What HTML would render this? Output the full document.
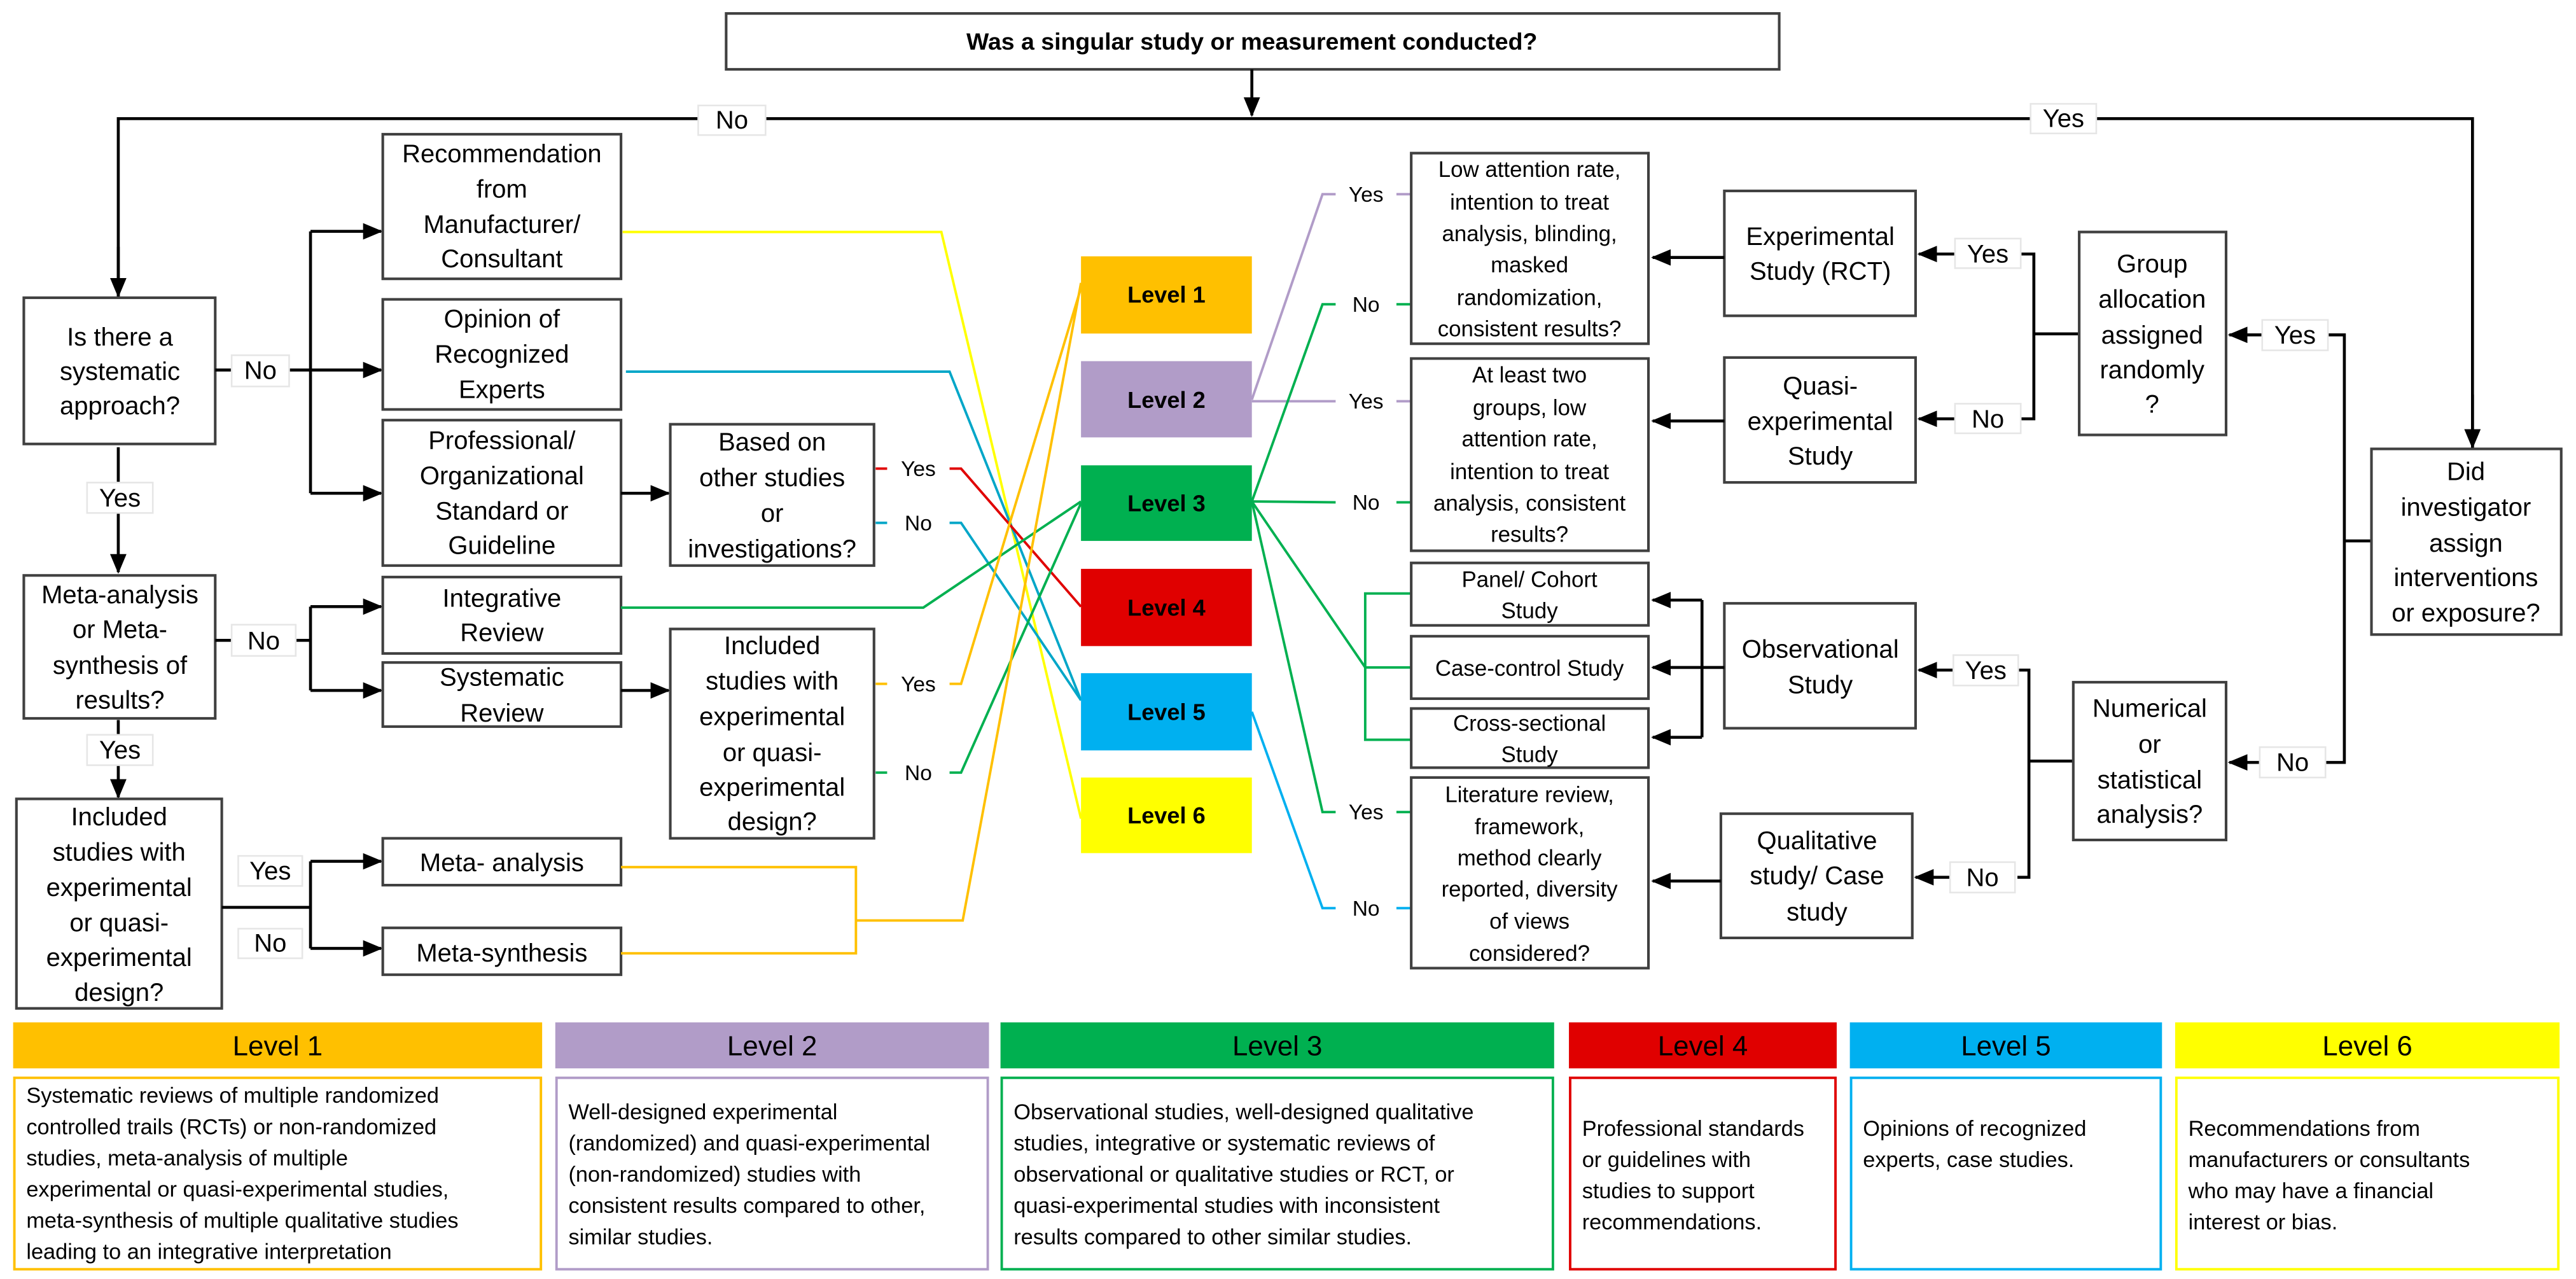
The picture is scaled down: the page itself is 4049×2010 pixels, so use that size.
<!DOCTYPE html>
<html><head><meta charset="utf-8"><style>
html,body{margin:0;padding:0;background:#fff;}
svg{display:block;}
text{font-family:"Liberation Sans",sans-serif;fill:#000;}
.n{font-size:15.5px;text-anchor:middle;}
.s{font-size:13.5px;text-anchor:middle;}
.l{font-size:13px;text-anchor:middle;}
.lv{font-size:14px;font-weight:bold;text-anchor:middle;}
.lg{font-size:13.3px;}
.lh{font-size:17px;text-anchor:middle;}
.b{fill:#fff;stroke:#404040;stroke-width:1.6;}
.k{fill:none;stroke:#000;stroke-width:1.8;}
.c{fill:none;stroke-width:1.5;}
.lb{fill:#fff;stroke:#e6e6e6;stroke-width:1;}
</style></head><body>
<svg width="4049" height="2010" viewBox="0 0 1568 778" xmlns="http://www.w3.org/2000/svg">
<defs>
<marker id="a" markerUnits="userSpaceOnUse" markerWidth="12" markerHeight="10" refX="11" refY="5" orient="auto"><path d="M0,0 L12,5 L0,10 Z" fill="#000"/></marker>
</defs>

<!-- top -->
<rect class="b" x="442" y="8" width="641" height="34"/>
<text x="762" y="30" style="font-size:14.5px;font-weight:bold;text-anchor:middle">Was a singular study or measurement conducted?</text>
<line class="k" x1="762" y1="42" x2="762" y2="70" marker-end="url(#a)"/>
<polyline class="k" points="72,181 72,72 1505,72 1505,273"/>
<line class="k" x1="72" y1="150" x2="72" y2="180" marker-end="url(#a)"/>
<line class="k" x1="1505" y1="240" x2="1505" y2="272" marker-end="url(#a)"/>
<rect class="lb" x="425" y="64" width="41" height="18"/><text class="n" x="445.5" y="78">No</text>
<rect class="lb" x="1236" y="63" width="40" height="18"/><text class="n" x="1256" y="77">Yes</text>

<!-- left boxes -->
<rect class="b" x="14.5" y="181" width="116.5" height="89"/>
<text class="n" x="73" y="210">Is there a</text><text class="n" x="73" y="231">systematic</text><text class="n" x="73" y="252">approach?</text>
<line class="k" x1="131" y1="225" x2="189" y2="225"/>
<rect class="lb" x="141" y="216" width="35" height="19"/><text class="n" x="158.5" y="230.5">No</text>
<line class="k" x1="189" y1="140.6" x2="189" y2="300"/>
<line class="k" x1="189" y1="140.6" x2="232" y2="140.6" marker-end="url(#a)"/>
<line class="k" x1="189" y1="225" x2="232" y2="225" marker-end="url(#a)"/>
<line class="k" x1="189" y1="300" x2="232" y2="300" marker-end="url(#a)"/>

<rect class="b" x="233" y="81.5" width="145" height="88"/>
<text class="n" x="305.5" y="98.5">Recommendation</text><text class="n" x="305.5" y="120">from</text><text class="n" x="305.5" y="141.5">Manufacturer/</text><text class="n" x="305.5" y="162.5">Consultant</text>
<rect class="b" x="233" y="182" width="145" height="67"/>
<text class="n" x="305.5" y="199">Opinion of</text><text class="n" x="305.5" y="220.5">Recognized</text><text class="n" x="305.5" y="242">Experts</text>
<rect class="b" x="233" y="255.5" width="145" height="88.5"/>
<text class="n" x="305.5" y="273">Professional/</text><text class="n" x="305.5" y="294.5">Organizational</text><text class="n" x="305.5" y="316">Standard or</text><text class="n" x="305.5" y="337">Guideline</text>
<line class="k" x1="378" y1="300" x2="407" y2="300" marker-end="url(#a)"/>
<rect class="b" x="408" y="258" width="124" height="86"/>
<text class="n" x="470" y="274">Based on</text><text class="n" x="470" y="295.6">other studies</text><text class="n" x="470" y="317.3">or</text><text class="n" x="470" y="339">investigations?</text>

<line class="k" x1="72" y1="272" x2="72" y2="348" marker-end="url(#a)"/>
<rect class="lb" x="53" y="293.5" width="40" height="18.5"/><text class="n" x="73" y="308">Yes</text>

<rect class="b" x="14.5" y="350" width="116.5" height="87"/>
<text class="n" x="73" y="367">Meta-analysis</text><text class="n" x="73" y="388">or Meta-</text><text class="n" x="73" y="410">synthesis of</text><text class="n" x="73" y="431">results?</text>
<line class="k" x1="131" y1="389.5" x2="189" y2="389.5"/>
<rect class="lb" x="141" y="380" width="39" height="19"/><text class="n" x="160.5" y="395">No</text>
<line class="k" x1="189" y1="369" x2="189" y2="420"/>
<line class="k" x1="189" y1="369" x2="232" y2="369" marker-end="url(#a)"/>
<line class="k" x1="189" y1="420" x2="232" y2="420" marker-end="url(#a)"/>
<rect class="b" x="233" y="351" width="145" height="46.5"/>
<text class="n" x="305.5" y="369">Integrative</text><text class="n" x="305.5" y="390">Review</text>
<rect class="b" x="233" y="403" width="145" height="39"/>
<text class="n" x="305.5" y="417">Systematic</text><text class="n" x="305.5" y="439">Review</text>
<line class="k" x1="378" y1="420" x2="407" y2="420" marker-end="url(#a)"/>
<rect class="b" x="408" y="382.6" width="124" height="127.4"/>
<text class="n" x="470" y="398">Included</text><text class="n" x="470" y="419.5">studies with</text><text class="n" x="470" y="441">experimental</text><text class="n" x="470" y="463">or quasi-</text><text class="n" x="470" y="484">experimental</text><text class="n" x="470" y="505">design?</text>

<line class="k" x1="72" y1="438" x2="72" y2="485" marker-end="url(#a)"/>
<rect class="lb" x="53" y="447" width="40" height="18.5"/><text class="n" x="73" y="461.5">Yes</text>
<rect class="b" x="10" y="486" width="125" height="127.5"/>
<text class="n" x="72.5" y="502">Included</text><text class="n" x="72.5" y="523.5">studies with</text><text class="n" x="72.5" y="545">experimental</text><text class="n" x="72.5" y="566.6">or quasi-</text><text class="n" x="72.5" y="587.6">experimental</text><text class="n" x="72.5" y="609">design?</text>
<line class="k" x1="135" y1="552" x2="189" y2="552"/>
<line class="k" x1="189" y1="524" x2="189" y2="577"/>
<line class="k" x1="189" y1="524" x2="232" y2="524" marker-end="url(#a)"/>
<line class="k" x1="189" y1="577" x2="232" y2="577" marker-end="url(#a)"/>
<rect class="lb" x="145" y="520.7" width="39" height="18.3"/><text class="n" x="164.5" y="535">Yes</text>
<rect class="lb" x="145" y="565" width="39" height="18"/><text class="n" x="164.5" y="579">No</text>
<rect class="b" x="233" y="510" width="145" height="28.5"/>
<text class="n" x="305.5" y="530">Meta- analysis</text>
<rect class="b" x="233" y="564.5" width="145" height="28.5"/>
<text class="n" x="305.5" y="585">Meta-synthesis</text>

<!-- left colored connectors -->
<polyline class="c" stroke="#FFFF00" points="379,141 573,141 658,498"/>
<polyline class="c" stroke="#00A6C8" points="381,226 578,226 658,426"/>
<line class="c" stroke="#E00000" x1="533" y1="285" x2="540" y2="285"/>
<text class="l" x="559" y="289.5">Yes</text>
<polyline class="c" stroke="#E00000" points="578,285 585,285 658,369"/>
<line class="c" stroke="#00A6C8" x1="533" y1="318" x2="540" y2="318"/>
<text class="l" x="559" y="322.5">No</text>
<polyline class="c" stroke="#00A6C8" points="578,318 585,318 658,426"/>
<polyline class="c" stroke="#00B050" points="378,369.6 562,369.6 658,305"/>
<line class="c" stroke="#FFC000" x1="533" y1="416" x2="540" y2="416"/>
<text class="l" x="559" y="420.5">Yes</text>
<polyline class="c" stroke="#FFC000" points="578,416 585,416 658,175"/>
<line class="c" stroke="#00B050" x1="533" y1="470" x2="540" y2="470"/>
<text class="l" x="559" y="474.5">No</text>
<polyline class="c" stroke="#00B050" points="578,470 585,470 658,306"/>
<polyline class="c" stroke="#FFC000" points="378,527.5 521,527.5 521,580 378,580"/>
<polyline class="c" stroke="#FFC000" points="521,560 586,560 658,172"/>

<!-- levels -->
<rect x="658" y="155.8" width="104" height="47" fill="#FFC000"/><text class="lv" x="710" y="184">Level 1</text>
<rect x="658" y="219.6" width="104" height="46.4" fill="#B19CC8"/><text class="lv" x="710" y="248">Level 2</text>
<rect x="658" y="283" width="104" height="46" fill="#00B050"/><text class="lv" x="710" y="311">Level 3</text>
<rect x="658" y="346" width="104" height="47" fill="#E00000"/><text class="lv" x="710" y="374.5">Level 4</text>
<rect x="658" y="409.5" width="104" height="47" fill="#00B0F0"/><text class="lv" x="710" y="438">Level 5</text>
<rect x="658" y="473" width="104" height="46" fill="#FFFF00"/><text class="lv" x="710" y="501">Level 6</text>

<!-- right colored connectors -->
<polyline class="c" stroke="#B19CC8" points="762,243 805,118 813,118"/>
<line class="c" stroke="#B19CC8" x1="850" y1="118" x2="859" y2="118"/>
<text class="l" x="831.5" y="122.5">Yes</text>
<polyline class="c" stroke="#B19CC8" points="762,244 813,244"/>
<line class="c" stroke="#B19CC8" x1="850" y1="244" x2="859" y2="244"/>
<text class="l" x="831.5" y="248.5">Yes</text>
<polyline class="c" stroke="#00B050" points="762,305 805,185 813,185"/>
<line class="c" stroke="#00B050" x1="850" y1="185" x2="859" y2="185"/>
<text class="l" x="831.5" y="189.5">No</text>
<polyline class="c" stroke="#00B050" points="762,305 813,305.5"/>
<line class="c" stroke="#00B050" x1="850" y1="305.5" x2="859" y2="305.5"/>
<text class="l" x="831.5" y="310">No</text>
<polyline class="c" stroke="#00B050" points="762,305 831,406"/>
<polyline class="c" stroke="#00B050" points="859,361 831,361 831,450 859,450"/>
<line class="c" stroke="#00B050" x1="831" y1="406" x2="859" y2="406"/>
<polyline class="c" stroke="#00B050" points="762,305 805,494 813,494"/>
<line class="c" stroke="#00B050" x1="850" y1="494" x2="859" y2="494"/>
<text class="l" x="831.5" y="498.5">Yes</text>
<polyline class="c" stroke="#00B0F0" points="762,433 805,552.5 813,552.5"/>
<line class="c" stroke="#00B0F0" x1="850" y1="552.5" x2="859" y2="552.5"/>
<text class="l" x="831.5" y="557">No</text>

<!-- right criteria boxes -->
<rect class="b" x="859" y="93" width="144.4" height="116"/>
<text class="s" x="931" y="107.5">Low attention rate,</text><text class="s" x="931" y="127.5">intention to treat</text><text class="s" x="931" y="146.5">analysis, blinding,</text><text class="s" x="931" y="165.5">masked</text><text class="s" x="931" y="185.5">randomization,</text><text class="s" x="931" y="204.5">consistent results?</text>
<rect class="b" x="859" y="218" width="144.4" height="117"/>
<text class="s" x="931" y="232.5">At least two</text><text class="s" x="931" y="252.5">groups, low</text><text class="s" x="931" y="271.5">attention rate,</text><text class="s" x="931" y="291.5">intention to treat</text><text class="s" x="931" y="310.5">analysis, consistent</text><text class="s" x="931" y="329.5">results?</text>
<rect class="b" x="859" y="342.4" width="144.4" height="38"/>
<text class="s" x="931" y="357">Panel/ Cohort</text><text class="s" x="931" y="376">Study</text>
<rect class="b" x="859" y="387" width="144.4" height="38"/>
<text class="s" x="931" y="411">Case-control Study</text>
<rect class="b" x="859" y="431" width="144.4" height="36"/>
<text class="s" x="931" y="444.5">Cross-sectional</text><text class="s" x="931" y="463.5">Study</text>
<rect class="b" x="859" y="473" width="144.4" height="116"/>
<text class="s" x="931" y="488">Literature review,</text><text class="s" x="931" y="507.5">framework,</text><text class="s" x="931" y="526.5">method clearly</text><text class="s" x="931" y="545.5">reported, diversity</text><text class="s" x="931" y="565">of views</text><text class="s" x="931" y="584.5">considered?</text>

<!-- study boxes -->
<rect class="b" x="1049.6" y="116" width="116.4" height="76"/>
<text class="n" x="1108" y="149">Experimental</text><text class="n" x="1108" y="170">Study (RCT)</text>
<line class="k" x1="1049.6" y1="156.5" x2="1006" y2="156.5" marker-end="url(#a)"/>
<rect class="b" x="1049.6" y="217.4" width="116.4" height="76"/>
<text class="n" x="1108" y="240">Quasi-</text><text class="n" x="1108" y="261.5">experimental</text><text class="n" x="1108" y="282.5">Study</text>
<line class="k" x1="1049.6" y1="256" x2="1006" y2="256" marker-end="url(#a)"/>
<rect class="b" x="1049.6" y="367" width="116.4" height="76"/>
<text class="n" x="1108" y="400">Observational</text><text class="n" x="1108" y="421.7">Study</text>
<line class="k" x1="1049.6" y1="406" x2="1006" y2="406" marker-end="url(#a)"/>
<line class="k" x1="1036" y1="365" x2="1036" y2="448.5"/>
<line class="k" x1="1036" y1="365" x2="1006" y2="365" marker-end="url(#a)"/>
<line class="k" x1="1036" y1="448.5" x2="1006" y2="448.5" marker-end="url(#a)"/>
<rect class="b" x="1047.5" y="495" width="116.5" height="75.6"/>
<text class="n" x="1106" y="516.6">Qualitative</text><text class="n" x="1106" y="538">study/ Case</text><text class="n" x="1106" y="560">study</text>
<line class="k" x1="1047.5" y1="536" x2="1006" y2="536" marker-end="url(#a)"/>

<!-- RCT yes/no -->
<line class="k" x1="1190" y1="154.4" x2="1168" y2="154.4" marker-end="url(#a)"/>
<polyline class="k" points="1230,154.4 1238,154.4 1238,254.7 1230,254.7"/>
<line class="k" x1="1190" y1="254.7" x2="1168" y2="254.7" marker-end="url(#a)"/>
<line class="k" x1="1238" y1="203" x2="1265.6" y2="203"/>
<rect class="lb" x="1190" y="145" width="40" height="18"/><text class="n" x="1210" y="159.5">Yes</text>
<rect class="lb" x="1190" y="245.5" width="40" height="18"/><text class="n" x="1210" y="260">No</text>
<rect class="b" x="1265.6" y="141" width="89.4" height="123.5"/>
<text class="n" x="1310" y="165.5">Group</text><text class="n" x="1310" y="187">allocation</text><text class="n" x="1310" y="209">assigned</text><text class="n" x="1310" y="230">randomly</text><text class="n" x="1310" y="251">?</text>

<line class="k" x1="1377" y1="203.6" x2="1357" y2="203.6" marker-end="url(#a)"/>
<polyline class="k" points="1417,203.6 1427,203.6 1427,463.8 1416,463.8"/>
<line class="k" x1="1427" y1="329" x2="1443.5" y2="329"/>
<line class="k" x1="1375.5" y1="463.8" x2="1357" y2="463.8" marker-end="url(#a)"/>
<rect class="lb" x="1377" y="194.5" width="40" height="18.5"/><text class="n" x="1397" y="209">Yes</text>
<rect class="lb" x="1375.5" y="454.5" width="40" height="18.5"/><text class="n" x="1395.5" y="469">No</text>

<rect class="b" x="1443.5" y="273" width="115.5" height="113"/>
<text class="n" x="1501" y="292">Did</text><text class="n" x="1501" y="313.7">investigator</text><text class="n" x="1501" y="335.5">assign</text><text class="n" x="1501" y="356.5">interventions</text><text class="n" x="1501" y="378">or exposure?</text>

<line class="k" x1="1189" y1="407.6" x2="1168" y2="407.6" marker-end="url(#a)"/>
<polyline class="k" points="1228.5,407.6 1235,407.6 1235,533.7 1228,533.7"/>
<line class="k" x1="1189" y1="533.7" x2="1166" y2="533.7" marker-end="url(#a)"/>
<line class="k" x1="1235" y1="463" x2="1262" y2="463"/>
<rect class="lb" x="1189" y="398.5" width="39.5" height="18.5"/><text class="n" x="1208.7" y="413">Yes</text>
<rect class="lb" x="1187" y="524.5" width="39.5" height="18.5"/><text class="n" x="1206.7" y="539">No</text>
<rect class="b" x="1262" y="415" width="93" height="96"/>
<text class="n" x="1308.5" y="436">Numerical</text><text class="n" x="1308.5" y="458">or</text><text class="n" x="1308.5" y="479.7">statistical</text><text class="n" x="1308.5" y="500.6">analysis?</text>

<!-- legend -->
<rect x="8" y="622" width="322" height="28" fill="#FFC000"/><text class="lh" x="169" y="642">Level 1</text>
<rect x="338" y="622" width="264" height="28" fill="#B19CC8"/><text class="lh" x="470" y="642">Level 2</text>
<rect x="609" y="622" width="337" height="28" fill="#00B050"/><text class="lh" x="777.5" y="642">Level 3</text>
<rect x="955" y="622" width="163" height="28" fill="#E00000"/><text class="lh" x="1036.5" y="642">Level 4</text>
<rect x="1126" y="622" width="190" height="28" fill="#00B0F0"/><text class="lh" x="1221" y="642">Level 5</text>
<rect x="1324" y="622" width="234" height="28" fill="#FFFF00"/><text class="lh" x="1441" y="642">Level 6</text>

<rect x="8.75" y="655.75" width="320.5" height="116.5" fill="#fff" stroke="#FFC000" stroke-width="1.5"/>
<rect x="338.75" y="655.75" width="262.5" height="116.5" fill="#fff" stroke="#B19CC8" stroke-width="1.5"/>
<rect x="609.75" y="655.75" width="335.5" height="116.5" fill="#fff" stroke="#00B050" stroke-width="1.5"/>
<rect x="955.75" y="655.75" width="161.5" height="116.5" fill="#fff" stroke="#E00000" stroke-width="1.5"/>
<rect x="1126.75" y="655.75" width="188.5" height="116.5" fill="#fff" stroke="#00B0F0" stroke-width="1.5"/>
<rect x="1324.75" y="655.75" width="232.5" height="116.5" fill="#fff" stroke="#FFFF00" stroke-width="1.5"/>

<text class="lg" x="16"><tspan x="16" y="671">Systematic reviews of multiple randomized</tspan><tspan x="16" y="690">controlled trails (RCTs) or non-randomized</tspan><tspan x="16" y="709">studies, meta-analysis of multiple</tspan><tspan x="16" y="728">experimental or quasi-experimental studies,</tspan><tspan x="16" y="747">meta-synthesis of multiple qualitative studies</tspan><tspan x="16" y="766">leading to an integrative interpretation</tspan></text>
<text class="lg"><tspan x="346" y="681">Well-designed experimental</tspan><tspan x="346" y="700">(randomized) and quasi-experimental</tspan><tspan x="346" y="719">(non-randomized) studies with</tspan><tspan x="346" y="738">consistent results compared to other,</tspan><tspan x="346" y="757">similar studies.</tspan></text>
<text class="lg"><tspan x="617" y="681">Observational studies, well-designed qualitative</tspan><tspan x="617" y="700">studies, integrative or systematic reviews of</tspan><tspan x="617" y="719">observational or qualitative studies or RCT, or</tspan><tspan x="617" y="738">quasi-experimental studies with inconsistent</tspan><tspan x="617" y="757">results compared to other similar studies.</tspan></text>
<text class="lg"><tspan x="963" y="691">Professional standards</tspan><tspan x="963" y="710">or guidelines with</tspan><tspan x="963" y="729">studies to support</tspan><tspan x="963" y="748">recommendations.</tspan></text>
<text class="lg"><tspan x="1134" y="691">Opinions of recognized</tspan><tspan x="1134" y="710">experts, case studies.</tspan></text>
<text class="lg"><tspan x="1332" y="691">Recommendations from</tspan><tspan x="1332" y="710">manufacturers or consultants</tspan><tspan x="1332" y="729">who may have a financial</tspan><tspan x="1332" y="748">interest or bias.</tspan></text>
</svg>
</body></html>
